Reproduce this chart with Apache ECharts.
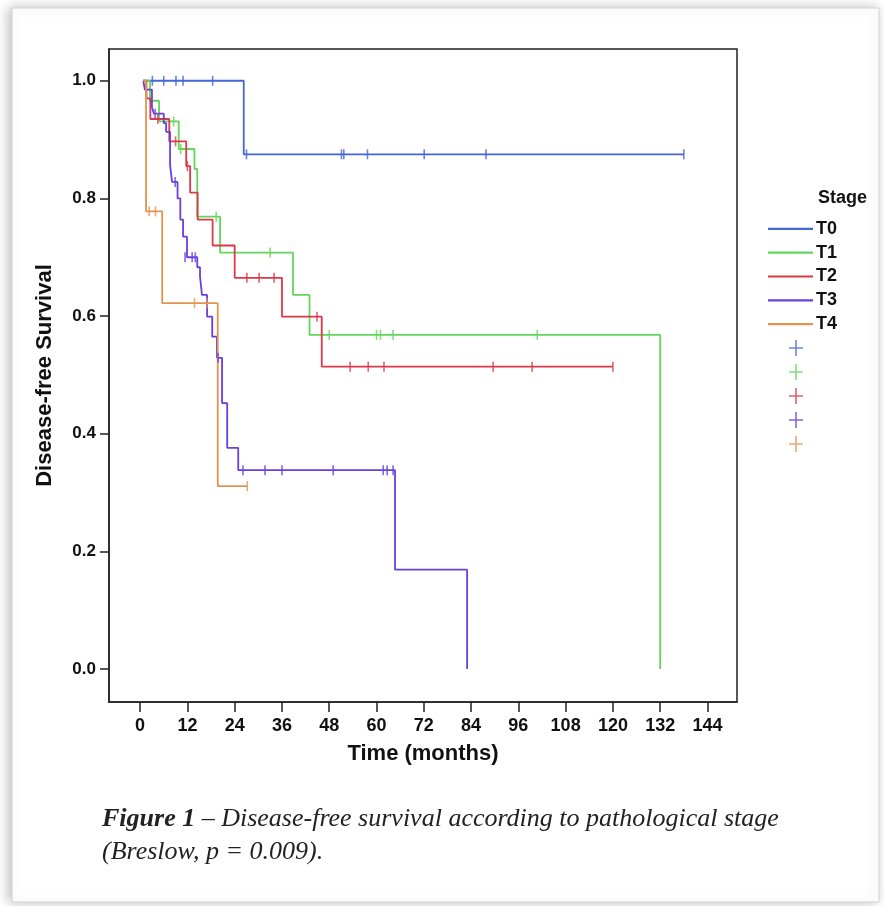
<!DOCTYPE html>
<html><head><meta charset="utf-8">
<script src="https://cdn.jsdelivr.net/npm/echarts@6/dist/echarts.min.js"></script>
<style>html,body{margin:0;padding:0;background:#fff}#c{width:884px;height:906px}</style>
</head><body><div id="c"></div>
<script>
// ---- data ----
const stageNames = ['T0', 'T1', 'T2', 'T3', 'T4'];
const xTickValues = [0, 12, 24, 36, 48, 60, 72, 84, 96, 108, 120, 132, 144];
const yTickValues = [0, 0.2, 0.4, 0.6, 0.8, 1.0];
const xTitle = 'Time (months)';
const yTitle = 'Disease-free Survival';
const legendTitle = 'Stage';
const captionBold = 'Figure 1';
const captionLine1 = ' – Disease-free survival according to pathological stage';
const captionLine2 = '(Breslow, p = 0.009).';

// Kaplan-Meier steps: [time, survival after event]
const t0Steps = [[0.8, 1], [26.3, 0.875], [138, 0.875]];
const t1Steps = [[0.8, 1], [2.5, 0.966], [4.8, 0.931], [9.8, 0.884], [13.8, 0.85], [14.5, 0.769], [20.3, 0.708], [38.8, 0.636], [43, 0.568], [132, 0]];
const t2Steps = [[0.8, 1], [1.6, 0.97], [2.6, 0.935], [7.4, 0.897], [11.7, 0.855], [12.7, 0.81], [14.6, 0.764], [18.4, 0.72], [24, 0.665], [36, 0.599], [46.1, 0.514], [120, 0.514]];
const t3Steps = [[0.8, 1], [1.2, 0.985], [3, 0.955], [3.5, 0.944], [6, 0.928], [6.6, 0.913], [7.6, 0.857], [8.1, 0.828], [9.5, 0.8], [10.2, 0.764], [10.9, 0.735], [11.9, 0.7], [14.5, 0.683], [15.2, 0.667], [15.7, 0.636], [17, 0.599], [18.3, 0.565], [19.5, 0.529], [20.8, 0.452], [22.1, 0.376], [24.9, 0.338], [64.7, 0.169], [83, 0]];
const t4Steps = [[0.8, 1], [1.5, 0.778], [5.6, 0.622], [19.7, 0.311], [27.2, 0.311]];

// censored observations: [time, survival]
const t0Censored = [[3.1, 1], [6, 1], [9.1, 1], [10.9, 1], [18.4, 1], [27, 0.875], [51.1, 0.875], [51.7, 0.875], [57.7, 0.875], [72.1, 0.875], [87.8, 0.875], [138, 0.875]];
const t1Censored = [[8.5, 0.931], [10.3, 0.884], [19.3, 0.769], [33, 0.708], [48, 0.568], [60, 0.568], [61, 0.568], [64.2, 0.568], [100.8, 0.568]];
const t2Censored = [[4.5, 0.935], [9, 0.897], [12, 0.855], [27.1, 0.665], [30.2, 0.665], [34, 0.665], [44.9, 0.599], [53.3, 0.514], [57.9, 0.514], [61.9, 0.514], [89.6, 0.514], [99.5, 0.514], [120, 0.514]];
const t3Censored = [[3.8, 0.944], [8.9, 0.828], [11.4, 0.7], [13.2, 0.7], [14, 0.7], [19.8, 0.529], [26.1, 0.338], [31.7, 0.338], [36, 0.338], [49, 0.338], [61.7, 0.338], [62.7, 0.338], [64.2, 0.338]];
const t4Censored = [[2.3, 0.778], [3.9, 0.778], [13.8, 0.622], [17, 0.622], [27.2, 0.311]];

// ---- styling ----
const colors = ['#4466d6', '#62d65a', '#dc3848', '#6a3fe0', '#e3944f'];
const allSteps = [t0Steps, t1Steps, t2Steps, t3Steps, t4Steps];
const allCensored = [t0Censored, t1Censored, t2Censored, t3Censored, t4Censored];
const FONT = '"Liberation Sans", Arial, sans-serif';

const series = [];
stageNames.forEach((n, i) => {
  series.push({
    name: n, type: 'line', step: 'end', data: allSteps[i],
    symbol: 'none', showSymbol: false, color: colors[i],
    lineStyle: { width: 1.8, color: colors[i] }, z: 3, animation: false
  });
});
const censorNames = stageNames.map(n => n + ' censored');
stageNames.forEach((n, i) => {
  series.push({
    name: censorNames[i], type: 'scatter', data: allCensored[i],
    symbol: 'rect', symbolSize: [1.6, 10], color: colors[i],
    itemStyle: { color: colors[i] }, z: 4, animation: false
  });
});

const plusIcon = 'path://M6.2,0 L7.8,0 L7.8,7.2 L14,7.2 L14,8.8 L7.8,8.8 L7.8,16 L6.2,16 L6.2,8.8 L0,8.8 L0,7.2 L6.2,7.2 Z';

const chart = echarts.init(document.getElementById('c'), null, { renderer: 'canvas' });
chart.setOption({
  backgroundColor: '#fff',
  animation: false,
  grid: { left: 109, right: 147, top: 49, bottom: 204, show: true, borderColor: '#222', borderWidth: 1.5, backgroundColor: 'transparent' },
  xAxis: {
    type: 'value', min: -7.9, max: 151.5,
    name: xTitle, nameLocation: 'middle', nameGap: 41,
    nameTextStyle: { fontFamily: FONT, fontWeight: 'bold', fontSize: 22, color: '#111' },
    axisLine: { show: true, onZero: false, lineStyle: { color: '#222', width: 1.5 } },
    axisTick: { show: true, customValues: xTickValues, length: 10, lineStyle: { color: '#222', width: 1.5 } },
    axisLabel: { customValues: xTickValues, fontFamily: FONT, fontWeight: 'bold', fontSize: 18, color: '#111', margin: 15 },
    splitLine: { show: false }
  },
  yAxis: {
    type: 'value', min: -0.056, max: 1.054,
    name: yTitle, nameLocation: 'middle', nameGap: 53, nameRotate: 90,
    nameTextStyle: { fontFamily: FONT, fontWeight: 'bold', fontSize: 22, color: '#111' },
    axisLine: { show: true, onZero: false, lineStyle: { color: '#222', width: 1.5 } },
    axisTick: { show: true, customValues: yTickValues, length: 9, lineStyle: { color: '#222', width: 1.5 } },
    axisLabel: { customValues: yTickValues, formatter: v => v.toFixed(1), fontFamily: FONT, fontWeight: 'bold', fontSize: 17, color: '#111', margin: 13 },
    splitLine: { show: false }
  },
  legend: [
    {
      data: stageNames.map(n => ({ name: n, icon: 'rect' })), orient: 'vertical', left: 763, top: 212, itemGap: 0,
      itemWidth: 45, itemHeight: 2.2, selectedMode: false,
      textStyle: { fontFamily: FONT, fontWeight: 'bold', fontSize: 18, color: '#111', lineHeight: 23.8, padding: [0, 0, 0, -2] }
    },
    {
      data: censorNames.map(n => ({ name: n, icon: plusIcon })), orient: 'vertical', left: 784, top: 335, itemGap: 8,
      itemWidth: 14, itemHeight: 16, selectedMode: false, formatter: () => '',
      textStyle: { fontSize: 1 }
    }
  ],
  graphic: [
    {
      type: 'rect', z: -10, silent: true,
      shape: { x: 12, y: 8, width: 867, height: 894 },
      style: { fill: '#fff', stroke: '#d4d4d4', lineWidth: 1, shadowBlur: 12, shadowColor: 'rgba(0,0,0,0.25)', shadowOffsetX: -3 }
    },
    {
      type: 'text', left: 818, top: 189, silent: true,
      style: { text: legendTitle, font: 'bold 18px ' + FONT, fill: '#111' }
    },
    {
      type: 'text', left: 102, top: 803, silent: true,
      style: {
        text: '{b|' + captionBold + '}' + captionLine1 + '\n' + captionLine2,
        font: 'italic 26px "Liberation Serif", "Times New Roman", serif', fill: '#222', lineHeight: 33,
        rich: { b: { font: 'italic bold 26px "Liberation Serif", "Times New Roman", serif', fill: '#222', lineHeight: 33 } }
      }
    }
  ],
  series: series
});
</script></body></html>
